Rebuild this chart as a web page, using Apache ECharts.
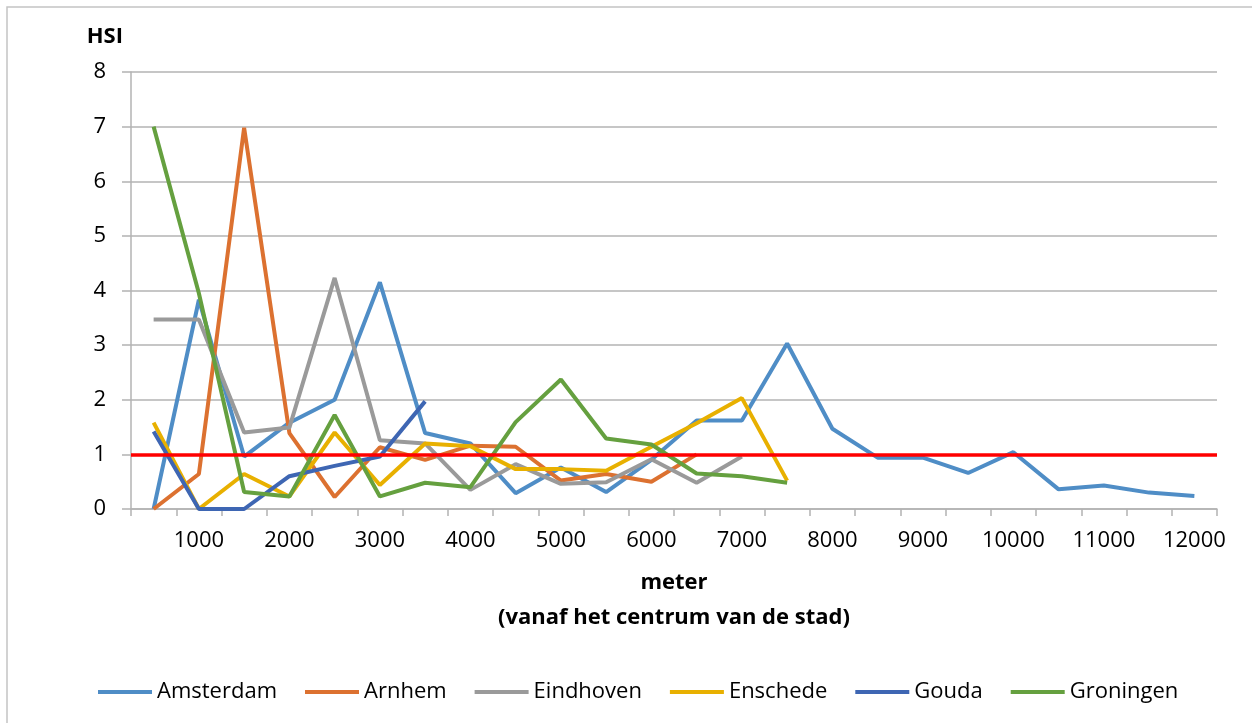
<!DOCTYPE html>
<html>
<head>
<meta charset="utf-8">
<title>HSI per afstand tot het centrum</title>
<script src="https://cdn.jsdelivr.net/npm/echarts@6/dist/echarts.min.js"></script>
<style>
  html, body { margin: 0; padding: 0; background: #ffffff; }
  #chart { width: 1252px; height: 723px; }
</style>
</head>
<body>
<div id="chart"></div>
<script>
// Afstandsklassen (meter vanaf het centrum)
const categories = ['500', '1000', '1500', '2000', '2500', '3000', '3500', '4000',
  '4500', '5000', '5500', '6000', '6500', '7000', '7500', '8000',
  '8500', '9000', '9500', '10000', '10500', '11000', '11500', '12000'];

// HSI per stad
const amsterdam = [0, 3.83, 0.96, 1.58, 2.0, 4.15, 1.39, 1.2, 0.29, 0.76, 0.31, 0.9,
  1.62, 1.62, 3.03, 1.47, 0.94, 0.94, 0.66, 1.04, 0.36, 0.43, 0.30, 0.24];
const arnhem = [0, 0.64, 6.98, 1.39, 0.22, 1.13, 0.9, 1.16, 1.14, 0.52, 0.64, 0.5, 1.0];
const eindhoven = [3.47, 3.47, 1.40, 1.49, 4.23, 1.26, 1.2, 0.35, 0.82, 0.46, 0.49, 0.91, 0.48, 0.96];
const enschede = [1.58, 0, 0.64, 0.23, 1.40, 0.44, 1.2, 1.15, 0.73, 0.73, 0.70, 1.14, 1.57, 2.03, 0.52];
const gouda = [1.42, 0, 0, 0.60, 0.79, 0.96, 1.97];
const groningen = [7.0, 3.95, 0.31, 0.23, 1.72, 0.23, 0.48, 0.40, 1.59, 2.37, 1.29, 1.18, 0.65, 0.60, 0.48];

// Referentieniveau HSI = 1
const referenceLevel = 1;

// Y-as
const yMin = 0, yMax = 8, yStep = 1;

const cities = [
  { name: 'Amsterdam', data: amsterdam, color: '#4f8dc6' },
  { name: 'Arnhem', data: arnhem, color: '#dc7130' },
  { name: 'Eindhoven', data: eindhoven, color: '#9a9a9a' },
  { name: 'Enschede', data: enschede, color: '#e8b000' },
  { name: 'Gouda', data: gouda, color: '#3e66b3' },
  { name: 'Groningen', data: groningen, color: '#65a03f' }
];

const FONT = 'Open Sans';
const gridColor = '#b3b3b3';

const series = cities.map(function (c) {
  return {
    name: c.name,
    type: 'line',
    data: c.data,
    symbol: 'none',
    color: c.color,
    lineStyle: { width: 4, color: c.color },
    emphasis: { disabled: true }
  };
});

// Rode lijn op HSI = 1 over de volle breedte
series[series.length - 1].markLine = {
  silent: true,
  symbol: 'none',
  label: { show: false },
  lineStyle: { color: '#ff0000', width: 3.5, type: 'solid' },
  emphasis: { disabled: true },
  data: [{ yAxis: referenceLevel }]
};

const chart = echarts.init(document.getElementById('chart'), null, { renderer: 'canvas' });

chart.setOption({
  animation: false,
  backgroundColor: '#ffffff',
  textStyle: { fontFamily: FONT },
  graphic: [{
    type: 'rect',
    shape: { x: 7, y: 7, width: 1300, height: 760 },
    style: { fill: 'none', stroke: '#c4c4c4', lineWidth: 1.5 },
    silent: true,
    z: -10
  }],
  grid: { left: 131, right: 35, top: 72, bottom: 214, containLabel: false },
  legend: {
    data: cities.map(function (c) { return { name: c.name, icon: 'rect' }; }),
    left: 93,
    top: 676,
    itemWidth: 54,
    itemHeight: 4,
    itemGap: 28,
    textStyle: { fontFamily: FONT, fontSize: 22, color: '#000000' }
  },
  xAxis: {
    type: 'category',
    data: categories,
    boundaryGap: true,
    name: 'meter\n(vanaf het centrum van de stad)',
    nameLocation: 'middle',
    nameGap: 56,
    nameTextStyle: { fontFamily: FONT, fontSize: 22, fontWeight: 'bold', color: '#000000', lineHeight: 35 },
    axisLine: { show: true, lineStyle: { color: gridColor, width: 1.5 } },
    axisTick: { show: true, interval: 0, length: 7, lineStyle: { color: gridColor, width: 1.5 } },
    axisLabel: {
      interval: function (index) { return index % 2 === 1; },
      margin: 21,
      fontFamily: FONT,
      fontSize: 22,
      color: '#000000'
    },
    splitLine: { show: false }
  },
  yAxis: {
    type: 'value',
    min: yMin,
    max: yMax,
    interval: yStep,
    name: 'HSI',
    nameLocation: 'end',
    nameGap: 24,
    nameTextStyle: { fontFamily: FONT, fontSize: 22, fontWeight: 'bold', color: '#000000', align: 'right', padding: [0, 8, 0, 0] },
    axisLine: { show: true, lineStyle: { color: gridColor, width: 1.5 } },
    axisTick: { show: true, length: 9, lineStyle: { color: gridColor, width: 1.5 } },
    axisLabel: { margin: 25, fontFamily: FONT, fontSize: 22, color: '#000000' },
    splitLine: { show: true, lineStyle: { color: gridColor, width: 1.5 } }
  },
  series: series
});
</script>
</body>
</html>
